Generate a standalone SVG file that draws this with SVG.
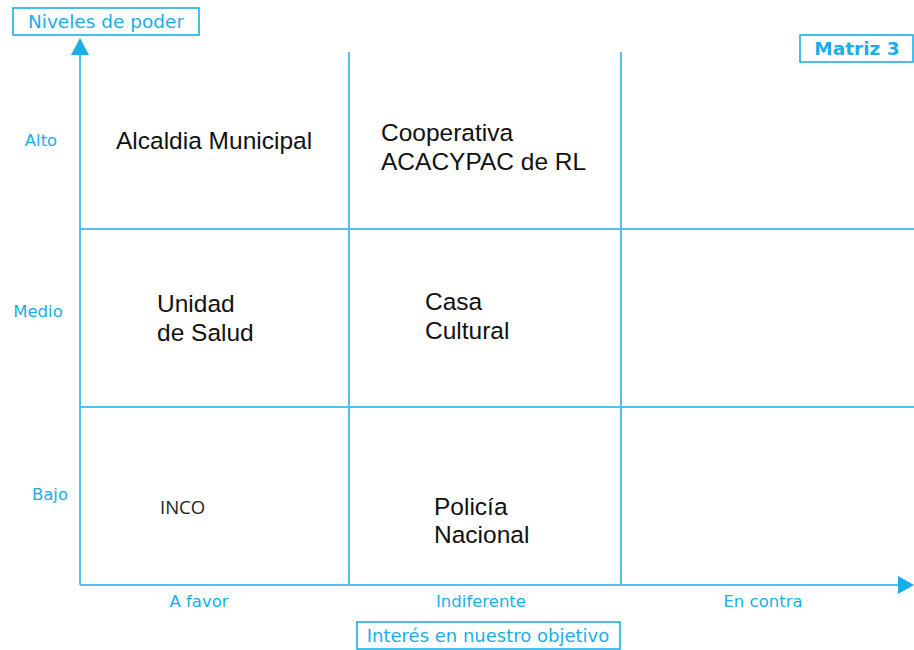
<svg xmlns="http://www.w3.org/2000/svg" width="914" height="650" viewBox="0 0 914 650">
<style>
.grid{stroke:#4fc0f0;stroke-width:2;fill:none}
.box{fill:#fff;stroke:#1aaee8;stroke-width:1.6}
.lbl{font-family:"DejaVu Sans","Liberation Sans",sans-serif;fill:#1aaee8}
.txt{font-family:"Liberation Sans",Arial,sans-serif;fill:#111;font-size:24.5px}
</style>
<rect width="914" height="650" fill="#fff"/>
<g id="connectors">
<line class="grid" x1="80" y1="585" x2="80" y2="40"/>
<polygon points="80,38 71,55 89,55" fill="#1aaee8"/>
<line class="grid" x1="80" y1="585" x2="900" y2="585"/>
<polygon points="914,585 898,576 898,594" fill="#1aaee8"/>
<line class="grid" x1="349" y1="52" x2="349" y2="585"/>
<line class="grid" x1="621" y1="52" x2="621" y2="585"/>
<line class="grid" x1="80" y1="229" x2="914" y2="229"/>
<line class="grid" x1="80" y1="407" x2="914" y2="407"/>
</g>
<g id="title-y">
<rect class="box" x="13" y="8" width="186" height="27"/>
<text class="lbl" x="106" y="28" font-size="18.5" text-anchor="middle">Niveles de poder</text>
</g>
<g id="title-matrix">
<rect class="box" x="800" y="35" width="113" height="27"/>
<text class="lbl" x="857" y="55" font-size="18.5" font-weight="bold" text-anchor="middle">Matriz 3</text>
</g>
<g id="title-x">
<rect class="box" x="357" y="622" width="263" height="27"/>
<text class="lbl" x="488" y="642" font-size="18" text-anchor="middle">Interés en nuestro objetivo</text>
</g>
<g id="y-labels">
<text class="lbl" x="41" y="146" font-size="16.5" text-anchor="middle">Alto</text>
<text class="lbl" x="38" y="317" font-size="16.5" text-anchor="middle">Medio</text>
<text class="lbl" x="50" y="500" font-size="16.5" text-anchor="middle">Bajo</text>
</g>
<g id="x-labels">
<text class="lbl" x="199" y="607" font-size="16.5" text-anchor="middle">A favor</text>
<text class="lbl" x="481" y="607" font-size="16.5" text-anchor="middle">Indiferente</text>
<text class="lbl" x="763" y="607" font-size="16.5" text-anchor="middle">En contra</text>
</g>
<g id="n-alcaldia"><text class="txt" x="116" y="149">Alcaldia Municipal</text></g>
<g id="n-cooperativa"><text class="txt" x="381" y="141">Cooperativa</text><text class="txt" x="381" y="170">ACACYPAC de RL</text></g>
<g id="n-unidad"><text class="txt" x="157" y="312">Unidad</text><text class="txt" x="157" y="341">de Salud</text></g>
<g id="n-casa"><text class="txt" x="425" y="310">Casa</text><text class="txt" x="425" y="339">Cultural</text></g>
<g id="n-inco"><text x="160" y="514" font-family="'Open Sans','DejaVu Sans',sans-serif" font-size="18.5" fill="#222">INCO</text></g>
<g id="n-policia"><text class="txt" x="434" y="515">Policía</text><text class="txt" x="434" y="543">Nacional</text></g>
</svg>
